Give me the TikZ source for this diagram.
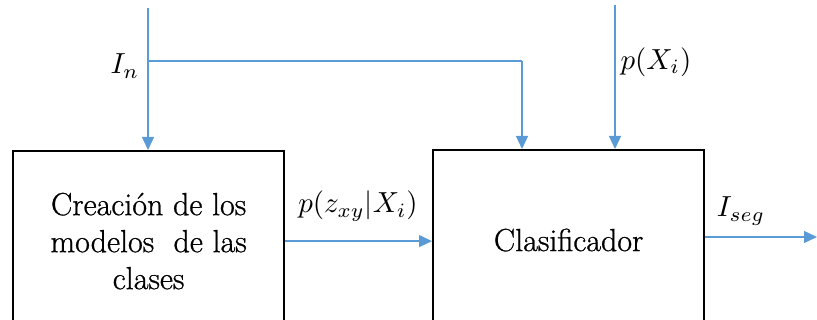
\documentclass[tikz,border=0pt]{standalone}
\usepackage{fontspec}
\newfontfamily\boxfont{Latin Modern Roman}[FakeBold=0.8]
\usetikzlibrary{arrows.meta}
\definecolor{lineblue}{HTML}{5B9BD5}
\newcommand{\bigmath}[1]{\scalebox{2.9}{$#1$}}
\tikzset{
  blockbox/.style={draw=black, line width=2.2pt, minimum width=271pt, minimum height=180pt, anchor=north west, inner sep=0pt, align=center, font=\boxfont\fontsize{32}{37}\selectfont},
  flow/.style={draw=lineblue, line width=1.3pt, -{Triangle[length=13pt,width=12pt]}},
  flowline/.style={draw=lineblue, line width=1.3pt},
  lbl/.style={inner sep=0pt}
}
\begin{document}
\begin{tikzpicture}[x=1pt,y=-1pt]
\useasboundingbox (0,0) rectangle (817,320);
\clip (0,0) rectangle (817,320);
\node[blockbox] (b1) at (12,150) {Creación de los\\modelos~ de las\\clases};
\node[blockbox] (b2) at (432,149) {Clasificador};
\coordinate (inA) at (148,8);
\coordinate (br) at (148,61);
\coordinate (c1) at (522,61);
\coordinate (pA) at (615,5);
\coordinate (outA) at (817,237);
\draw[flow] (inA) -- (inA |- b1.north);
\draw[flowline] (br) -- (c1);
\draw[flow] (c1) -- (c1 |- b2.north);
\draw[flow] (pA) -- (pA |- b2.north);
\draw[flow] (b1.east) -- (b2.west |- b1.east);
\draw[flow] (b2.east |- outA) -- (outA);
\node[lbl] (lIn) at (125,66) {\bigmath{I_n}};
\node[lbl] (lpX) at (656,62) {\bigmath{p(X_i)}};
\node[lbl] (lpz) at (358,206) {\bigmath{p(z_{xy}|X_i)}};
\node[lbl] (lIs) at (741,211) {\bigmath{I_{seg}}};
\end{tikzpicture}
\end{document}
